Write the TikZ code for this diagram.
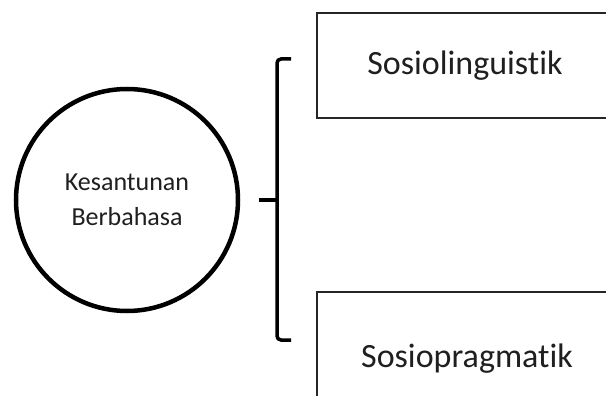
\documentclass[tikz,border=0pt]{standalone}
\usepackage{fontspec}
\setmainfont{Carlito}[Ligatures={NoCommon}]
\begin{document}
\begin{tikzpicture}[x=1pt,y=-1pt,
  mainc/.style={circle,draw=black,line width=4.5pt,minimum size=222pt,inner sep=0pt,
    align=center,text=black!88,font=\fontsize{26}{35}\selectfont},
  topicbox/.style={rectangle,draw=black!85,line width=1.6pt,inner sep=0pt},
  topictext/.style={anchor=base,text=black!88,font=\fontsize{34}{40}\selectfont,inner sep=0pt},
  brack/.style={draw=black,line width=3.5pt,rounded corners=4pt}]
\useasboundingbox (0,0) rectangle (606,396);
\fill[white] (0,0) rectangle (606,396);
\node[mainc] (kb) at (127,200) {Kesantunan\\Berbahasa};
\begin{scope}
\clip (0,0) rectangle (606,396);
\node[topicbox,minimum width=296pt,minimum height=105pt] (b1) at (465,65.5) {};
\node[topicbox,minimum width=296pt,minimum height=110pt] (b2) at (465,347) {};
\end{scope}
\node[topictext] (t1) at (465,75) {Sosiolinguistik};
\node[topictext] (t2) at (467,367) {Sosiopragmatik};
\coordinate (bt) at (291,59);
\coordinate (bb) at (291,340);
\coordinate (bm) at (277,200);
\coordinate (tick) at (259,200);
\draw[brack] (bt) -- (277,59) -- (277,340) -- (bb);
\draw[draw=black,line width=3.5pt] (tick) -- (bm);
\end{tikzpicture}
\end{document}
